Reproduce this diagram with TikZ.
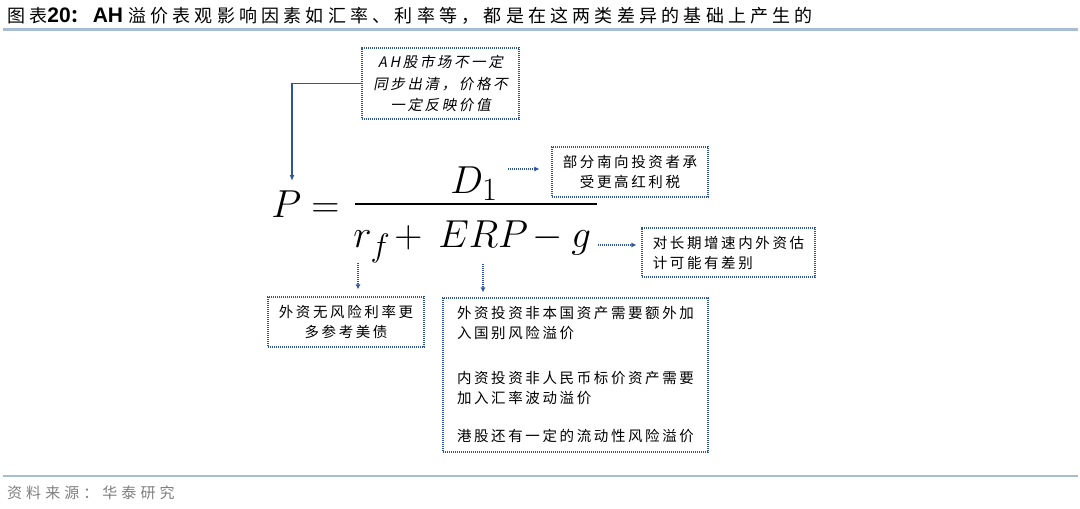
\documentclass[tikz,border=0pt]{standalone}
\usepackage{fontspec}
\setmainfont{Liberation Sans}
\newfontfamily\cjk{Noto Sans CJK SC}[LetterSpace=18]
\newfontfamily\cjkhead{Noto Sans CJK SC}[LetterSpace=23.5]
\newfontfamily\cjkfoot{Noto Sans CJK SC}[LetterSpace=27]
\newfontfamily\cjkit{Noto Sans CJK SC}[FakeSlant=0.2,LetterSpace=18]
\usetikzlibrary{arrows.meta}
\definecolor{dblue}{HTML}{2F5597}
\definecolor{rulec}{HTML}{A7BDD3}
\definecolor{footc}{HTML}{7F7F7F}
\tikzset{
  dbox/.style={draw=dblue, line width=1.1pt, dash pattern=on 1.1pt off 0.9pt, inner sep=0pt},
  boxtext/.style={font=\cjk\fontsize{14.5}{20}\selectfont},
  darr/.style={draw=dblue, line width=1.1pt, dash pattern=on 1.1pt off 0.9pt, -{Latex[length=5pt,width=5pt]}},
  sarr/.style={draw=dblue, line width=1.5pt, -{Latex[length=6pt,width=5pt]}},
  mth/.style={anchor=base west, inner sep=0pt, font=\Huge, scale=1.5676},
  rulel/.style={draw=rulec, line width=2.2pt}
}
\begin{document}
\begin{tikzpicture}[x=1pt,y=-1pt]
\useasboundingbox (0,0) rectangle (1080,509);
\fill[white] (0,0) rectangle (1080,509);
% header
\node[anchor=base west, inner sep=0pt] (head) at (7,22) {{\cjkhead\fontsize{18}{20}\selectfont 图表}{\fontsize{21}{22}\selectfont\bfseries 20}{\cjkhead\fontsize{18}{20}\selectfont\bfseries ：}\hspace{4pt}{\fontsize{21}{22}\selectfont\bfseries AH}\hspace{5pt}{\cjkhead\fontsize{18}{20}\selectfont 溢价表观影响因素如汇率、利率等，都是在这两类差异的基础上产生的}};
\coordinate (hl) at (3,29.5);
\coordinate (hr) at (1078,29.5);
\draw[rulel] (hl) -- (hr);
% footer
\coordinate (fl) at (3,475.5);
\coordinate (fr) at (1078,475.5);
\draw[rulel, line width=2pt] (fl) -- (fr);
\node[anchor=base west, inner sep=0pt, text=footc] (foot) at (7,498) {\cjkfoot\fontsize{15}{17}\selectfont 资料来源：华泰研究};
% formula
\node[mth] (P) at (271,217) {$P$};
\node[mth] (eq) at (311,217) {$=$};
\coordinate (barl) at (355,204);
\coordinate (barr) at (597,204);
\draw[line width=2.4pt] (barl) -- (barr);
\node[mth] (D) at (450,193) {$D_1$};
\node[mth] (rf) at (353,247) {$r_f$};
\node[mth] (plus) at (394,247) {$+$};
\node[mth] (ERP) at (438,247) {$ERP$};
\node[mth] (minus) at (532,247) {$-$};
\node[mth] (g) at (571,247) {$g$};
% boxes
\node[dbox, minimum width=157pt, minimum height=71pt, align=center, font=\cjkit\fontsize{14.5}{21.5}\selectfont] (b1) at (440.5,83.5) {AH股市场不一定\\同步出清，价格不\\一定反映价值};
\node[dbox, boxtext, minimum width=156pt, minimum height=50pt, align=center] (b2) at (630,172) {部分南向投资者承\\受更高红利税};
\node[dbox, boxtext, minimum width=173pt, minimum height=49pt, align=left] (b3) at (728.5,252.5) {对长期增速内外资估\\计可能有差别};
\node[dbox, boxtext, minimum width=156pt, minimum height=50pt, align=center] (b4) at (346,322) {外资无风险利率更\\多参考美债};
\node[dbox, boxtext, minimum width=265pt, minimum height=154pt, align=left] (b5) at (575.5,375) {外资投资非本国资产需要额外加\\入国别风险溢价\\[25pt]内资投资非人民币标价资产需要\\加入汇率波动溢价\\[18pt]港股还有一定的流动性风险溢价};
% connectors
\coordinate (ptop) at (292,181);
\draw[sarr] (b1.west) -| (ptop);
\coordinate (da) at (508,169);
\draw[darr, shorten >=12pt] (da) -- (da -| b2.west);
\coordinate (ga) at (598,245);
\draw[darr, shorten >=5pt] (ga) -- (ga -| b3.west);
\coordinate (ra) at (358,263);
\draw[darr, shorten >=7pt] (ra) -- (ra |- b4.north);
\coordinate (ea) at (483,264);
\draw[darr, shorten >=5pt] (ea) -- (ea |- b5.north);
\end{tikzpicture}
\end{document}
